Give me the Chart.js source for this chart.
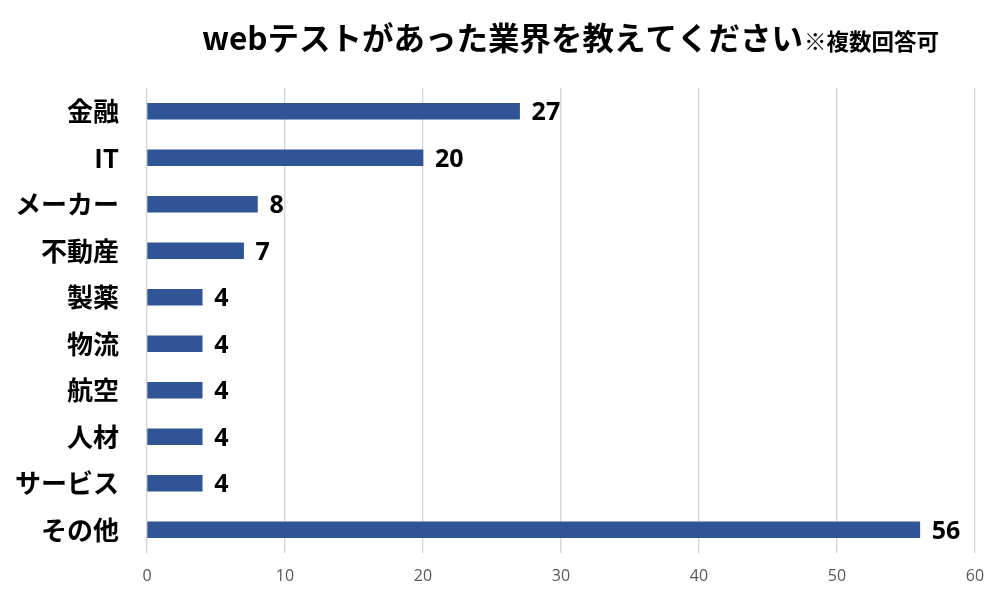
<!DOCTYPE html>
<html lang="ja">
<head>
<meta charset="utf-8">
<title>webテストがあった業界</title>
<script src="https://cdn.jsdelivr.net/npm/chart.js@4.4.1/dist/chart.umd.min.js"></script>
<style>
  html, body { margin: 0; padding: 0; background: #fff; }
  #wrap { width: 1007px; height: 597px; }
</style>
</head>
<body>
<div id="wrap"><canvas id="chart" width="1007" height="597"></canvas></div>
<script>
// データ
const categories = ['金融', 'IT', 'メーカー', '不動産', '製薬', '物流', '航空', '人材', 'サービス', 'その他'];
const counts = [27, 20, 8, 7, 4, 4, 4, 4, 4, 56];
const xTicks = [0, 10, 20, 30, 40, 50, 60];

const titleMain = 'webテストがあった業界を教えてください';
const titleSub = '※複数回答可';

const JP_FONT = '"Noto Sans CJK JP", "Noto Sans", sans-serif';
const NUM_FONT = '"Open Sans", "Liberation Sans", sans-serif';

// タイトル（大小2サイズ）
const titlePlugin = {
  id: 'mixedTitle',
  afterDraw(chart) {
    const ctx = chart.ctx;
    ctx.save();
    ctx.fillStyle = '#000';
    ctx.textBaseline = 'alphabetic';
    ctx.textAlign = 'left';
    ctx.font = 'bold 31.5px ' + JP_FONT;
    const x = 202, y = 50;
    ctx.fillText(titleMain, x, y);
    const w = ctx.measureText(titleMain).width;
    ctx.font = 'bold 22.5px ' + JP_FONT;
    ctx.fillText(titleSub, x + w + 1, y);
    ctx.restore();
  }
};

// バー右側の数値ラベル
const valueLabels = {
  id: 'valueLabels',
  afterDatasetsDraw(chart) {
    const ctx = chart.ctx;
    const meta = chart.getDatasetMeta(0);
    ctx.save();
    ctx.fillStyle = '#000';
    ctx.font = 'bold 25px ' + NUM_FONT;
    ctx.textAlign = 'left';
    ctx.textBaseline = 'middle';
    meta.data.forEach((bar, i) => {
      ctx.fillText(String(counts[i]), bar.x + 12, bar.y + 2);
    });
    ctx.restore();
  }
};

new Chart(document.getElementById('chart').getContext('2d'), {
  type: 'bar',
  data: {
    labels: categories,
    datasets: [{
      data: counts,
      backgroundColor: '#2f5597',
      borderWidth: 0,
      barThickness: 16
    }]
  },
  options: {
    indexAxis: 'y',
    responsive: false,
    animation: false,
    layout: { padding: { top: 88, right: 32, bottom: 0, left: 0 } },
    plugins: {
      legend: { display: false },
      title: { display: false },
      tooltip: { enabled: false }
    },
    scales: {
      x: {
        min: 0,
        max: 60,
        afterBuildTicks: (scale) => { scale.ticks = xTicks.map(v => ({ value: v })); },
        afterFit: (scale) => { scale.height = 44; },
        grid: { color: '#d4d4d4', lineWidth: 1.3, drawTicks: false },
        border: { display: false },
        ticks: {
          padding: 14,
          color: '#595959',
          font: { family: NUM_FONT, size: 16 }
        }
      },
      y: {
        afterFit: (scale) => { scale.width = 147; },
        grid: { display: false, drawTicks: false },
        border: { display: false },
        ticks: {
          padding: 28,
          color: '#000',
          font: { family: JP_FONT, size: 26, weight: 'bold' }
        }
      }
    }
  },
  plugins: [titlePlugin, valueLabels]
});
</script>
</body>
</html>
